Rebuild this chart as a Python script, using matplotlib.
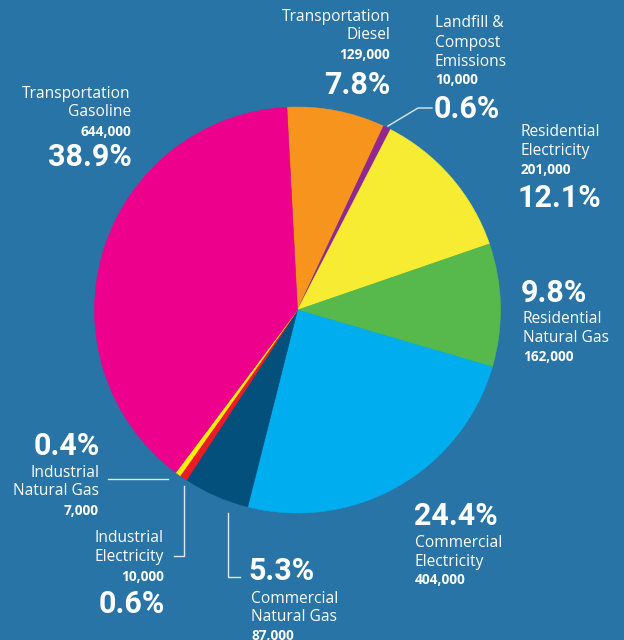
import matplotlib.pyplot as plt

# slices, clockwise from the top
names = ['Transportation Diesel', 'Landfill & Compost Emissions', 'Residential Electricity',
         'Residential Natural Gas', 'Commercial Electricity', 'Commercial Natural Gas',
         'Industrial Electricity', 'Industrial Natural Gas', 'Transportation Gasoline']
values = [129000, 10000, 201000, 162000, 404000, 87000, 10000, 7000, 644000]
pct = ['7.8%', '0.6%', '12.1%', '9.8%', '24.4%', '5.3%', '0.6%', '0.4%', '38.9%']
colors = ['#F7941E', '#92278F', '#F7EC31', '#57B84B', '#00AEEF', '#04507D',
          '#ED1C24', '#FFF200', '#EC008C']

bg = '#2874A6'
H = 640

fig = plt.figure(figsize=(6.24, 6.4), dpi=100, facecolor=bg)
ax = fig.add_axes([0, 0, 1, 1])
ax.set_facecolor(bg)
ax.pie(values, colors=colors, startangle=93, counterclock=False,
       center=(297.5, H - 310), radius=203,
       wedgeprops=dict(linewidth=0.4))
for w, c in zip(ax.patches, colors):
    w.set_edgecolor(c)
ax.set_xlim(0, 624)
ax.set_ylim(0, H)
ax.set_aspect('equal')
ax.axis('off')

nums = [f'{v:,}' for v in values]

lab_font = 'Open Sans'
big = dict(family='Roboto', weight='bold', size=22, color='white', va='center')
small = dict(family=lab_font, size=11.2, color='white', va='center')
numf = dict(family=lab_font, weight='bold', size=9.8, color='white', va='center')


def t(x, y, s, style, ha='left'):
    ax.text(x, H - y, s, ha=ha, **style)


# Transportation Diesel
t(390, 17, 'Transportation', small, 'right')
t(390, 35, 'Diesel', small, 'right')
t(390, 55, nums[0], numf, 'right')
t(390, 85, pct[0], big, 'right')
# Landfill
t(435, 23, 'Landfill &', small)
t(435, 43, 'Compost', small)
t(435, 62, 'Emissions', small)
t(435, 80, nums[1], numf)
t(434, 109, pct[1], big)
# Residential Electricity
t(521, 132, 'Residential', small)
t(521, 151, 'Electricity', small)
t(521, 170, nums[2], numf)
t(517, 198, pct[2], big)
# Residential Natural Gas
t(521, 293, pct[3], big)
t(523, 319, 'Residential', small)
t(523, 338, 'Natural Gas', small)
t(523, 357, nums[3], numf)
# Commercial Electricity
t(414, 516, pct[4], big)
t(415, 543, 'Commercial', small)
t(415, 562, 'Electricity', small)
t(415, 580, nums[4], numf)
# Commercial Natural Gas
t(248, 571, pct[5], big)
t(251, 599, 'Commercial', small)
t(251, 617, 'Natural Gas', small)
t(251, 636, nums[5], numf)
# Industrial Electricity
t(164, 538, 'Industrial', small, 'right')
t(164, 557, 'Electricity', small, 'right')
t(164, 577, nums[6], numf, 'right')
t(165, 604, pct[6], big, 'right')
# Industrial Natural Gas
t(100, 446, pct[7], big, 'right')
t(99, 473, 'Industrial', small, 'right')
t(99, 491, 'Natural Gas', small, 'right')
t(99, 511, nums[7], numf, 'right')
# Transportation Gasoline
t(131, 94, 'Transportation', small, 'right')
t(131, 112, 'Gasoline', small, 'right')
t(131, 132, nums[8], numf, 'right')
t(132, 157, pct[8], big, 'right')

# leader lines
lc = dict(color='#DDE8F0', linewidth=1)
ax.plot([388, 418, 432], [H - 126, H - 108, H - 108], **lc)
ax.plot([108, 168], [H - 479, H - 479], **lc)
ax.plot([184, 184, 174], [H - 486, H - 556, H - 556], **lc)
ax.plot([228, 228, 240], [H - 513, H - 577, H - 577], **lc)

fig.savefig('out.png', dpi=100, facecolor=bg)
